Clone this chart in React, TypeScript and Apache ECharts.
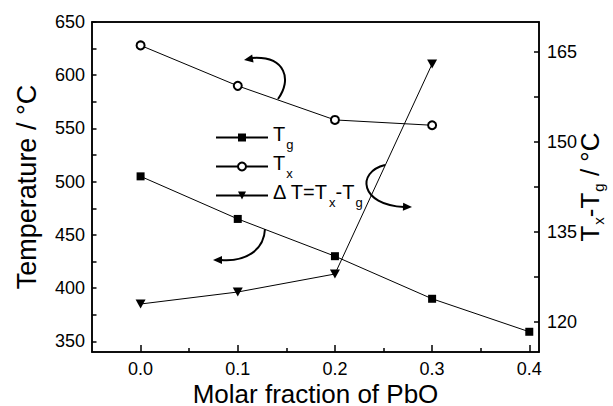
import React, { useEffect, useRef } from 'react';
import * as echarts from 'echarts';

// ---- data ----
const xValues = [0, 0.1, 0.2, 0.3, 0.4];
const tgValues = [505, 465, 430, 390, 359];
const txValues = [628, 590, 558, 553];
const dtValues = [123, 125, 128, 163];

const xLabelValues = [0, 0.1, 0.2, 0.3, 0.4];
const xMinorTickValues = [0.05, 0.15, 0.25, 0.35];
const leftLabelValues = [350, 400, 450, 500, 550, 600, 650];
const leftTickValues = [350, 375, 400, 425, 450, 475, 500, 525, 550, 575, 600, 625, 650];
const rightLabelValues = [120, 135, 150, 165];
const rightTickValues = [120, 127.5, 135, 142.5, 150, 157.5, 165];

const FONT = "'Liberation Sans', Arial, Helvetica, sans-serif";
const BLACK = '#000';

function arrowHead(tipX: number, tipY: number, angleDeg: number, len = 9, half = 4) {
  const a = (angleDeg * Math.PI) / 180;
  const bx = tipX - len * Math.cos(a);
  const by = tipY - len * Math.sin(a);
  const px = -Math.sin(a) * half;
  const py = Math.cos(a) * half;
  return [
    [tipX, tipY],
    [bx + px, by + py],
    [bx - px, by - py],
  ];
}

export default function App() {
  const ref = useRef<HTMLDivElement>(null);

  useEffect(() => {
    if (!ref.current) return;
    const chart = echarts.init(ref.current, undefined, { renderer: 'svg' });

    const lineStyle = { color: BLACK, width: 1.5 };
    const labelBase = { color: BLACK, fontFamily: FONT, fontSize: 18 };

    const legendRich = {
      m: { fontSize: 20, fontFamily: FONT, color: BLACK, lineHeight: 22, verticalAlign: 'top' },
      s: { fontSize: 13, fontFamily: FONT, color: BLACK, padding: [14, 0, 0, 1], verticalAlign: 'top' },
    };
    const nameRich = {
      m: { fontSize: 26, fontFamily: FONT, color: BLACK, lineHeight: 26, verticalAlign: 'top' },
      s: { fontSize: 15, fontFamily: FONT, color: BLACK, padding: [14, 0, 0, 1], verticalAlign: 'top' },
    };

    const legendLabels: Record<string, string> = {
      Tg: '{m|T}{s|g}',
      Tx: '{m|T}{s|x}',
      dT: '{m|\u0394 T=T}{s|x}{m|-T}{s|g}',
    };

    const option: any = {
      animation: false,
      backgroundColor: '#fff',
      grid: {
        left: 92,
        top: 22,
        right: 74,
        bottom: 54,
        show: true,
        borderColor: BLACK,
        borderWidth: 1.5,
        backgroundColor: 'transparent',
        containLabel: false,
        outerBoundsMode: 'none',
      },
      legend: {
        show: true,
        orient: 'vertical',
        left: 210,
        top: 119,
        itemWidth: 52,
        itemHeight: 10,
        itemGap: 2,
        selectedMode: false,
        data: ['Tg', 'Tx', 'dT'],
        formatter: (name: string) => legendLabels[name],
        textStyle: { color: BLACK, fontFamily: FONT, fontSize: 20, rich: legendRich },
      },
      xAxis: [
        {
          type: 'value',
          min: -0.05,
          max: 0.41,
          position: 'bottom',
          axisLine: { show: true, onZero: false, lineStyle },
          axisTick: { show: true, inside: true, length: 7, customValues: xLabelValues, lineStyle },
          axisLabel: {
            ...labelBase,
            lineHeight: 18,
            customValues: xLabelValues,
            margin: 8,
            formatter: (v: number) => v.toFixed(1),
          },
          splitLine: { show: false },
          name: 'Molar fraction of PbO',
          nameLocation: 'middle',
          nameGap: 30,
          nameMoveOverlap: false,
          nameTextStyle: { color: BLACK, fontFamily: FONT, fontSize: 26, lineHeight: 23 },
        },
        {
          type: 'value',
          min: -0.05,
          max: 0.41,
          position: 'bottom',
          axisLine: { show: false, onZero: false },
          axisTick: { show: true, inside: true, length: 4, customValues: xMinorTickValues, lineStyle },
          axisLabel: { show: false },
          splitLine: { show: false },
        },
        {
          type: 'value',
          min: -0.05,
          max: 0.41,
          position: 'top',
          axisLine: { show: true, onZero: false, lineStyle },
          axisTick: { show: false },
          axisLabel: { show: false },
          splitLine: { show: false },
        },
      ],
      yAxis: [
        {
          type: 'value',
          min: 340,
          max: 650,
          position: 'left',
          axisLine: { show: true, onZero: false, lineStyle },
          axisTick: { show: true, inside: true, length: 4.5, customValues: leftTickValues, lineStyle },
          axisLabel: { ...labelBase, customValues: leftLabelValues, margin: 7 },
          splitLine: { show: false },
          name: 'Temperature / \u00B0C',
          nameLocation: 'middle',
          nameRotate: 90,
          nameGap: 52,
          nameTextStyle: { color: BLACK, fontFamily: FONT, fontSize: 27 },
        },
        {
          type: 'value',
          min: 115,
          max: 170,
          position: 'right',
          axisLine: { show: true, onZero: false, lineStyle },
          axisTick: { show: true, inside: true, length: 5, customValues: rightTickValues, lineStyle },
          axisLabel: { ...labelBase, customValues: rightLabelValues, margin: 8 },
          splitLine: { show: false },
          name: '{m|T}{s|x}{m|-T}{s|g}{m| / \u00B0C}',
          nameLocation: 'middle',
          nameRotate: 90,
          nameGap: 38,
          nameMoveOverlap: false,
          nameTextStyle: { color: BLACK, fontFamily: FONT, fontSize: 26, rich: nameRich },
        },
      ],
      series: [
        {
          name: 'Tg',
          type: 'line',
          xAxisIndex: 0,
          yAxisIndex: 0,
          data: xValues.map((x, i) => [x, tgValues[i]]),
          symbol: 'rect',
          symbolSize: 8,
          itemStyle: { color: BLACK },
          lineStyle: { color: BLACK, width: 1 },
        },
        {
          name: 'Tx',
          type: 'line',
          xAxisIndex: 0,
          yAxisIndex: 0,
          data: xValues.slice(0, txValues.length).map((x, i) => [x, txValues[i]]),
          symbol: 'emptyCircle',
          symbolSize: 8,
          itemStyle: { color: BLACK, borderWidth: 1 },
          lineStyle: { color: BLACK, width: 1 },
        },
        {
          name: 'dT',
          type: 'line',
          xAxisIndex: 0,
          yAxisIndex: 1,
          data: xValues.slice(0, dtValues.length).map((x, i) => [x, dtValues[i]]),
          symbol: 'triangle',
          symbolRotate: 180,
          symbolSize: [10, 9],
          itemStyle: { color: BLACK },
          lineStyle: { color: BLACK, width: 1 },
        },
      ],
      graphic: [
        // arrow near Tx line -> left axis
        {
          type: 'bezierCurve',
          shape: { x1: 278, y1: 99, cpx1: 292, cpy1: 80, cpx2: 286, cpy2: 56, x2: 252, y2: 58 },
          style: { stroke: BLACK, lineWidth: 2, fill: null },
        },
        {
          type: 'polygon',
          shape: { points: arrowHead(244, 60, 170) },
          style: { fill: BLACK },
        },
        // arrow near Tg line -> left axis
        {
          type: 'bezierCurve',
          shape: { x1: 265, y1: 229, cpx1: 264, cpy1: 250, cpx2: 246, cpy2: 262, x2: 221, y2: 260 },
          style: { stroke: BLACK, lineWidth: 2, fill: null },
        },
        {
          type: 'polygon',
          shape: { points: arrowHead(213, 260, 180) },
          style: { fill: BLACK },
        },
        // arrow near dT line -> right axis
        {
          type: 'bezierCurve',
          shape: { x1: 385, y1: 165, cpx1: 356, cpy1: 172, cpx2: 360, cpy2: 205, x2: 404, y2: 207 },
          style: { stroke: BLACK, lineWidth: 2, fill: null },
        },
        {
          type: 'polygon',
          shape: { points: arrowHead(412, 207, 2) },
          style: { fill: BLACK },
        },
      ],
    };

    chart.setOption(option);
    return () => {
      chart.dispose();
    };
  }, []);

  return (
    <div
      ref={ref}
      style={{ position: 'absolute', left: 0, top: 0, width: 613, height: 406, background: '#fff' }}
    />
  );
}
